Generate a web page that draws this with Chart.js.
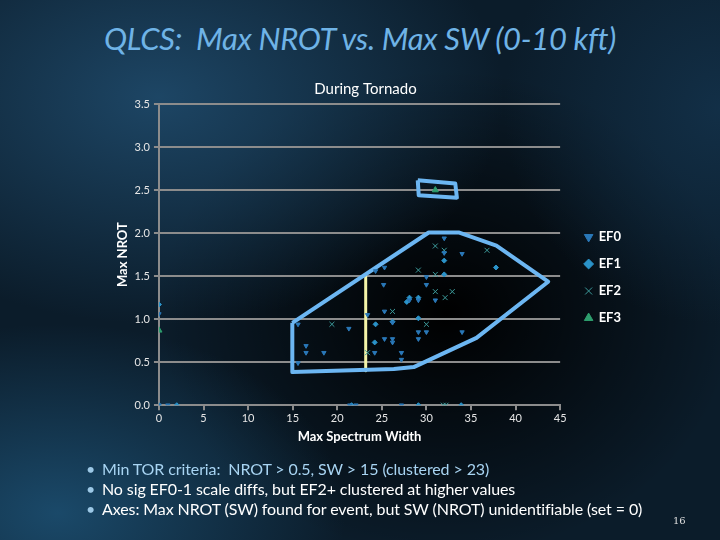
<!DOCTYPE html>
<html lang="en">
<head>
  <meta charset="utf-8">
  <title>QLCS: Max NROT vs. Max SW</title>
  <style>
    * { box-sizing: border-box; margin: 0; padding: 0; }
    html, body { width: 720px; height: 540px; overflow: hidden; }
    body {
      position: relative; font-family: 'Lato', 'Open Sans', sans-serif; color: #fff;
      background:
        radial-gradient(ellipse 48% 42% at 22% 18%, rgba(30,72,104,0.95) 0%, rgba(30,72,104,0) 100%),
        radial-gradient(ellipse 40% 35% at 8% 95%, rgba(28,78,112,0.9) 0%, rgba(28,78,112,0) 100%),
        radial-gradient(ellipse 30% 40% at 100% 20%, rgba(20,52,78,0.8) 0%, rgba(20,52,78,0) 100%),
        radial-gradient(ellipse 40% 45% at 62% 58%, #000 0%, rgba(0,0,0,0) 100%),
        #0b1c2a;
    }
    #pageTitle { position: absolute; top: 19px; left: 0; width: 720px; text-align: center; font-size: 31px; font-style: italic; color: #6fb3e6; letter-spacing: -0.3px; }
    #chartBox { position: absolute; left: 0; top: 0; width: 720px; height: 540px; }
    #notes { position: absolute; left: 86px; top: 459px; list-style: none; font-size: 16px; line-height: 20px; letter-spacing: -0.1px; }
    #notes li::before { content: '\2022'; display: inline-block; width: 16px; color: #9cc8e6; }
    #notes li:first-child { color: #a8d4f2; }
    #pageNum { position: absolute; left: 673px; top: 515px; font-size: 10px; font-family: 'DejaVu Serif', serif; color: #ddd; }
  </style>
  <script src="https://cdn.jsdelivr.net/npm/chart.js"></script>
</head>
<body>
  <div id="pageTitle">QLCS:&nbsp; Max NROT vs. Max SW (0-10 kft)</div>
  <div id="chartBox"><canvas id="chart" width="720" height="540"></canvas></div>
  <ul id="notes">
    <li>Min TOR criteria:&nbsp; NROT &gt; 0.5, SW &gt; 15 (clustered &gt; 23)</li>
    <li>No sig EF0-1 scale diffs, but EF2+ clustered at higher values</li>
    <li>Axes: Max NROT (SW) found for event, but SW (NROT) unidentifiable (set = 0)</li>
  </ul>
  <div id="pageNum">16</div>
  <script>
    // values
    const ef0X = [0, 0, 1, 21.4, 22.1, 27.2, 32, 32, 34, 25.3, 24.3, 30, 30, 25.2, 31, 28.1, 29.1, 25.3, 23.4, 26.2, 21.3, 29.1, 30, 29.1, 34, 25.3, 26.2, 24.2, 27.2, 27.2, 16.5, 16.5, 18.5, 15.6, 15.6, 26.2];
    const ef0Y = [1.06, 0, 0, 0, 0, 0, 1.94, 1.77, 1.76, 1.60, 1.56, 1.49, 1.40, 1.40, 1.22, 1.22, 1.22, 1.09, 1.05, 0.96, 0.89, 0.85, 0.85, 0.77, 0.85, 0.77, 0.77, 0.61, 0.61, 0.53, 0.69, 0.61, 0.61, 0.94, 0.49, 0.73];
    const ef1X = [0, 0, 2, 21.6, 29.1, 33.9, 32, 37.8, 32, 28.1, 29.1, 29.1, 24.3, 24.2, 26.2, 27.8];
    const ef1Y = [1.17, 0, 0, 0, 0, 0, 1.68, 1.60, 1.52, 1.25, 1.25, 1.01, 0.94, 0.73, 0.97, 1.20];
    const ef2X = [31, 32, 36.8, 29.1, 31, 31, 32.9, 32.1, 26.2, 30, 19.4, 23.4, 31.9, 32.2];
    const ef2Y = [1.85, 1.80, 1.80, 1.57, 1.52, 1.32, 1.32, 1.25, 1.09, 0.94, 0.94, 0.61, 0, 0];
    const ef3X = [31, 0];
    const ef3Y = [2.50, 0.87];

    // hand-drawn annotations (data units)
    const hullX = [14.96, 30.26, 33.61, 37.85, 43.66, 35.62, 28.58, 26.35, 14.96, 14.96];
    const hullY = [0.957, 2.007, 2.007, 1.855, 1.435, 0.782, 0.443, 0.420, 0.385, 0.957];
    const boxX = [29.03, 33.24, 33.42, 29.14, 29.03];
    const boxY = [2.614, 2.575, 2.412, 2.439, 2.614];
    const cutX = [23.19, 23.19];
    const cutY = [1.505, 0.40];

    const xTicks = [0, 5, 10, 15, 20, 25, 30, 35, 40, 45];
    const yTicks = [0, 0.5, 1.0, 1.5, 2.0, 2.5, 3.0, 3.5];

    const pts = (xs, ys) => xs.map((x, i) => ({ x, y: ys[i] }));
    const grey = '#8c8c8c';

    const outline = (xs, ys, color, w) => ({
      label: '', data: pts(xs, ys), showLine: true, borderColor: color, borderWidth: w,
      pointRadius: 0, fill: false, tension: 0, borderJoinStyle: 'round'
    });

    // Excel put the legend a bit lower and further right than Chart.js does
    const legendNudge = {
      id: 'legendNudge',
      afterLayout(chart) {
        const l = chart.legend;
        l.left += 11; l.right += 11; l.top += 13; l.bottom += 13;
      }
    };

    new Chart(document.getElementById('chart'), {
      type: 'scatter',
      data: {
        datasets: [
          { label: 'EF0', data: pts(ef0X, ef0Y), pointStyle: 'triangle', rotation: 180, pointRadius: 2.5, backgroundColor: '#2a78b8', borderColor: '#2a78b8', borderWidth: 1 },
          { label: 'EF1', data: pts(ef1X, ef1Y), pointStyle: 'rectRot', pointRadius: 2.5, backgroundColor: '#2b93c9', borderColor: '#2b93c9', borderWidth: 1 },
          { label: 'EF2', data: pts(ef2X, ef2Y), pointStyle: 'crossRot', pointRadius: 3.5, backgroundColor: '#3d9c9c', borderColor: '#3d9c9c', borderWidth: 1 },
          { label: 'EF3', data: pts(ef3X, ef3Y), pointStyle: 'triangle', pointRadius: 3.5, backgroundColor: '#2e9e6e', borderColor: '#2e9e6e', borderWidth: 1 },
          outline(hullX, hullY, '#6cb6f2', 4),
          outline(boxX, boxY, '#6cb6f2', 4),
          outline(cutX, cutY, '#f4f4a8', 3)
        ]
      },
      plugins: [legendNudge],
      options: {
        responsive: false,
        animation: false,
        layout: { padding: { left: 111, top: 80, right: 100, bottom: 91 } },
        plugins: {
          title: { display: true, text: 'During Tornado', color: '#fff', font: { family: 'Lato', size: 15, weight: 'normal' }, padding: { top: 0, bottom: 6 } },
          legend: {
            position: 'right',
            labels: {
              color: '#fff', font: { family: 'Lato', size: 13, weight: 'bold' }, usePointStyle: true,
              boxWidth: 7, boxHeight: 7, padding: 14,
              filter: item => item.text !== ''
            }
          },
          tooltip: { enabled: false }
        },
        scales: {
          x: {
            type: 'linear', min: 0, max: 45,
            afterBuildTicks: s => { s.ticks = xTicks.map(v => ({ value: v })); },
            ticks: { color: '#e6e6e6', font: { family: 'Lato', size: 11 }, padding: 2 },
            grid: { display: true, drawOnChartArea: false, drawTicks: true, tickLength: 5, color: grey, lineWidth: 2 },
            border: { color: grey, width: 2 },
            title: { display: true, text: 'Max Spectrum Width', color: '#fff', font: { family: 'Lato', size: 13, weight: 'bold' }, padding: { top: 2 } }
          },
          y: {
            type: 'linear', min: 0, max: 3.5,
            afterBuildTicks: s => { s.ticks = yTicks.map(v => ({ value: v })); },
            ticks: { color: '#e6e6e6', font: { family: 'Lato', size: 11 }, callback: v => v.toFixed(1), padding: 4 },
            grid: { color: grey, lineWidth: 2, tickLength: 5 },
            border: { color: grey, width: 2 },
            title: { display: true, text: 'Max NROT', color: '#fff', font: { family: 'Lato', size: 13, weight: 'bold' }, padding: { bottom: 0 } }
          }
        }
      }
    });
  </script>
</body>
</html>
